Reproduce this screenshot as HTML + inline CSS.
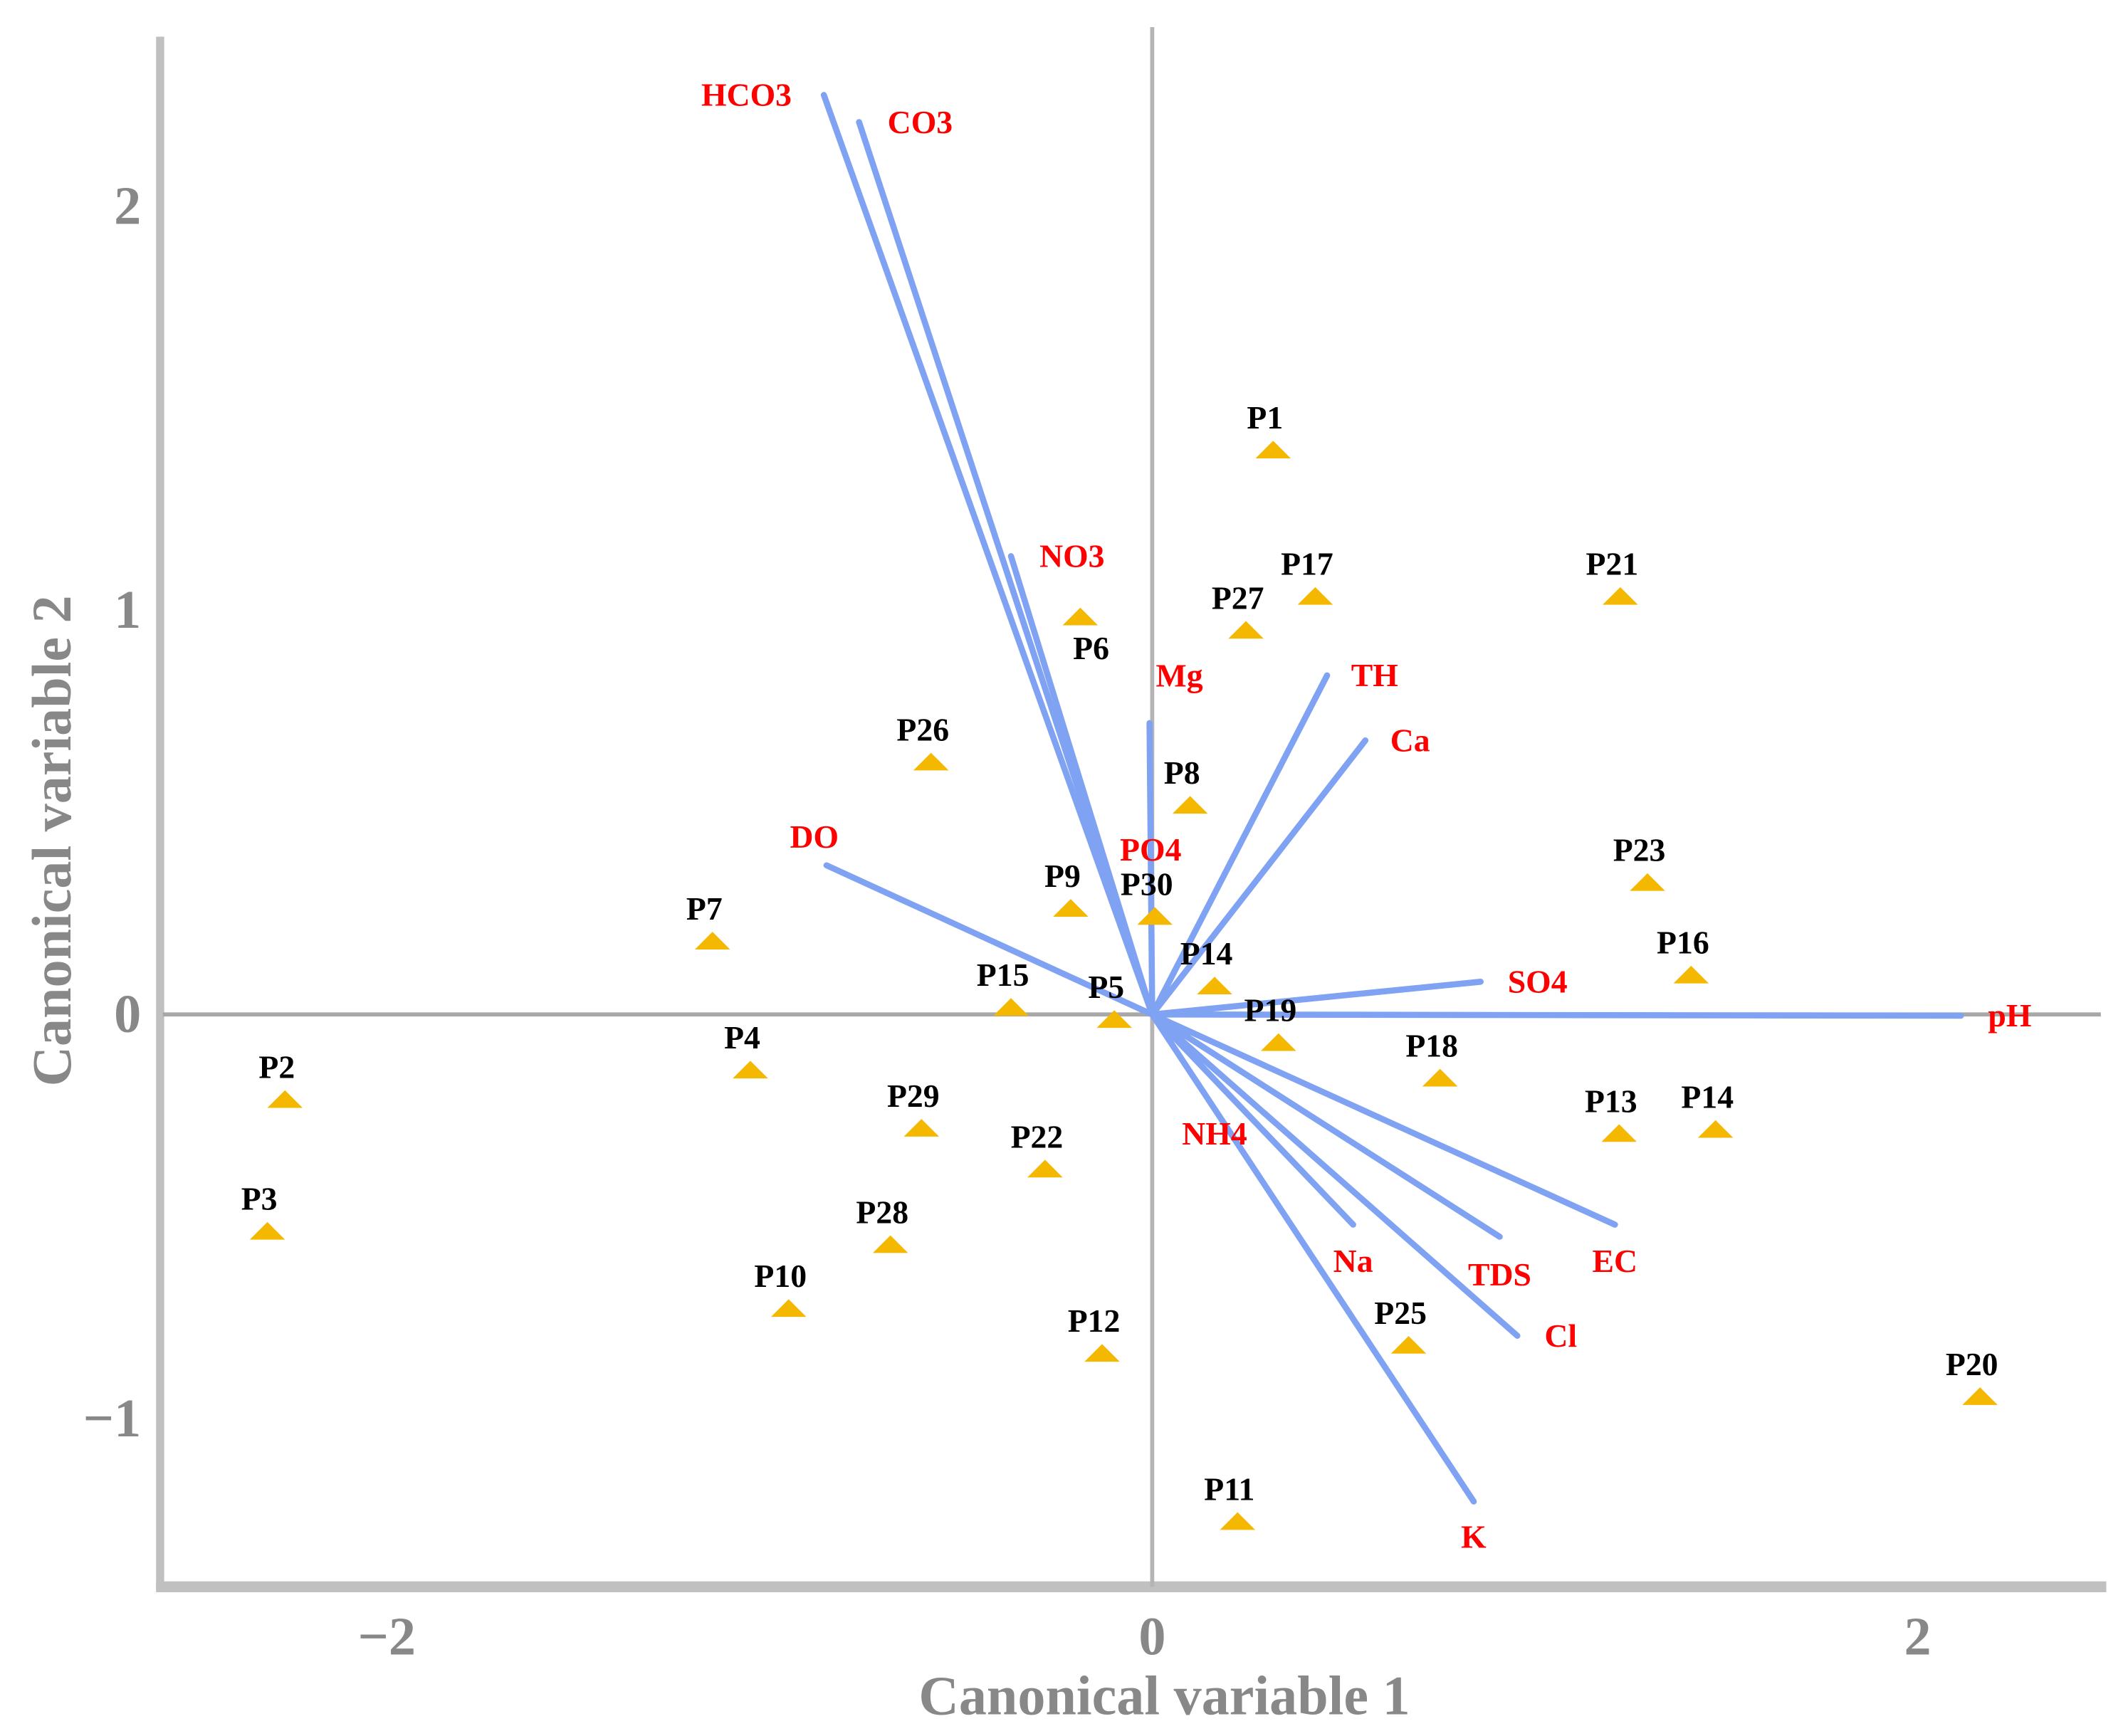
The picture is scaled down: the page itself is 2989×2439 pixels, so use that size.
<!DOCTYPE html>
<html><head><meta charset="utf-8"><style>
html,body{margin:0;padding:0;background:#fff}
svg{display:block}
text{font-family:"Liberation Serif",serif;font-weight:bold}
</style></head><body>
<svg id="chart" width="2989" height="2439" viewBox="0 0 1568 1280" preserveAspectRatio="none" xmlns="http://www.w3.org/2000/svg">
<g id="axes">
<line x1="118" y1="27" x2="118" y2="1172" stroke="#c0c0c0" stroke-width="6"/>
<line x1="115" y1="1170" x2="1552" y2="1170" stroke="#c0c0c0" stroke-width="8"/>
<line x1="849" y1="20" x2="849" y2="1170" stroke="#b4b4b4" stroke-width="3"/>
<line x1="120" y1="748" x2="1548" y2="748" stroke="#a8a8a8" stroke-width="3"/>
<text x="858" y="1264" text-anchor="middle" font-size="41" fill="#888">Canonical variable 1</text>
<text transform="translate(52,620) rotate(-90)" text-anchor="middle" font-size="41" fill="#888">Canonical variable 2</text>
</g>
<g id="ticks"></g>
<g id="vectors"></g>
<g id="points"></g>
</svg>
<script>
const xTicks = [-2, 0, 2];
const yTicks = [-1, 0, 1, 2];
const pointNames = ["P1","P17","P21","P27","P6","P26","P8","P23","P9","P30","P7","P16","P14","P15","P5","P19","P4","P18","P2","P29","P13","P14","P22","P3","P28","P10","P25","P12","P20","P11"];
const pointX = [0.316,0.426,1.223,0.245,-0.188,-0.578,0.099,1.294,-0.213,0.007,-1.149,1.408,0.163,-0.369,-0.099,0.330,-1.050,0.752,-2.266,-0.603,1.220,1.472,-0.280,-2.312,-0.684,-0.950,0.670,-0.131,2.163,0.223];
const pointY = [1.396,1.034,1.034,0.950,0.983,0.624,0.517,0.326,0.262,0.242,0.181,0.097,0.070,0.017,-0.013,-0.070,-0.138,-0.158,-0.211,-0.282,-0.295,-0.285,-0.383,-0.537,-0.570,-0.728,-0.819,-0.839,-0.946,-1.255];
const vecNames = ["HCO3","CO3","NO3","Mg","TH","Ca","DO","SO4","pH","Na","TDS","EC","Cl","K"];
const vecX = [-0.858,-0.766,-0.369,-0.007,0.457,0.557,-0.851,0.858,2.113,0.525,0.908,1.209,0.954,0.840];
const vecY = [2.275,2.208,1.134,0.721,0.839,0.678,0.369,0.081,-0.003,-0.520,-0.550,-0.520,-0.795,-1.205];
const labelOnlyNames = ["PO4","NH4"];
const labelOnlyX = [-0.004,0.163];
const labelOnlyY = [0.408,-0.295];
// styling offsets (pixels) for vector labels
const vecDx = [-57,45,45,22,35,33,-9,42,36,0,0,0,32,0];
const vecDy = [0,0,0,-35,0,0,-21,0,0,27,28,27,0,26];

const NS="http://www.w3.org/2000/svg";
const X0=849, XS=282, Y0=748, YS=298;
const sx=v=>X0+v*XS, sy=v=>Y0-v*YS;
function mk(tag,attrs,parent){const e=document.createElementNS(NS,tag);for(const k in attrs)e.setAttribute(k,attrs[k]);parent.appendChild(e);return e;}
const ticks=document.getElementById('ticks');
xTicks.forEach(t=>{
  const e=mk('text',{x:sx(t),y:1220,'text-anchor':'middle','font-size':40,fill:'#888'},ticks);
  e.textContent=t<0?'\u2212'+Math.abs(t):String(t);
  
  
});
yTicks.forEach(t=>{
  const e=mk('text',{x:104,y:sy(t)+13,'text-anchor':'end','font-size':40,fill:'#888'},ticks);
  e.textContent=t<0?'\u2212'+Math.abs(t):String(t);
  
  
});
const vg=document.getElementById('vectors');
vecNames.forEach((n,i)=>{
  const l=mk('line',{x1:sx(0),y1:sy(0),x2:sx(vecX[i]),y2:sy(vecY[i]),stroke:'#7fa2f2','stroke-width':4.5,'stroke-linecap':'round'},vg);
  
  
  const t=mk('text',{x:sx(vecX[i])+vecDx[i],y:sy(vecY[i])+vecDy[i]+8,'text-anchor':'middle','font-size':24,fill:'#ff0000'},vg);
  t.textContent=n;
  
  
});
labelOnlyNames.forEach((n,i)=>{
  const t=mk('text',{x:sx(labelOnlyX[i]),y:sy(labelOnlyY[i])+8,'text-anchor':'middle','font-size':24,fill:'#ff0000'},vg);
  t.textContent=n;
  
  
});
const pg=document.getElementById('points');
pointNames.forEach((n,i)=>{
  const cx=sx(pointX[i]), cy=sy(pointY[i]);
  const p=mk('polygon',{points:`${cx-13},${cy+6} ${cx},${cy-7} ${cx+13},${cy+6}`,fill:'#f5b800'},pg);
  
  
  const below = n==="P6";
  const t=mk('text',{x:cx+(below?8:-6),y:below?cy+31:cy-16,'text-anchor':'middle','font-size':24,fill:'#000'},pg);
  t.textContent=n;
  
  
});
</script>
</body></html>
